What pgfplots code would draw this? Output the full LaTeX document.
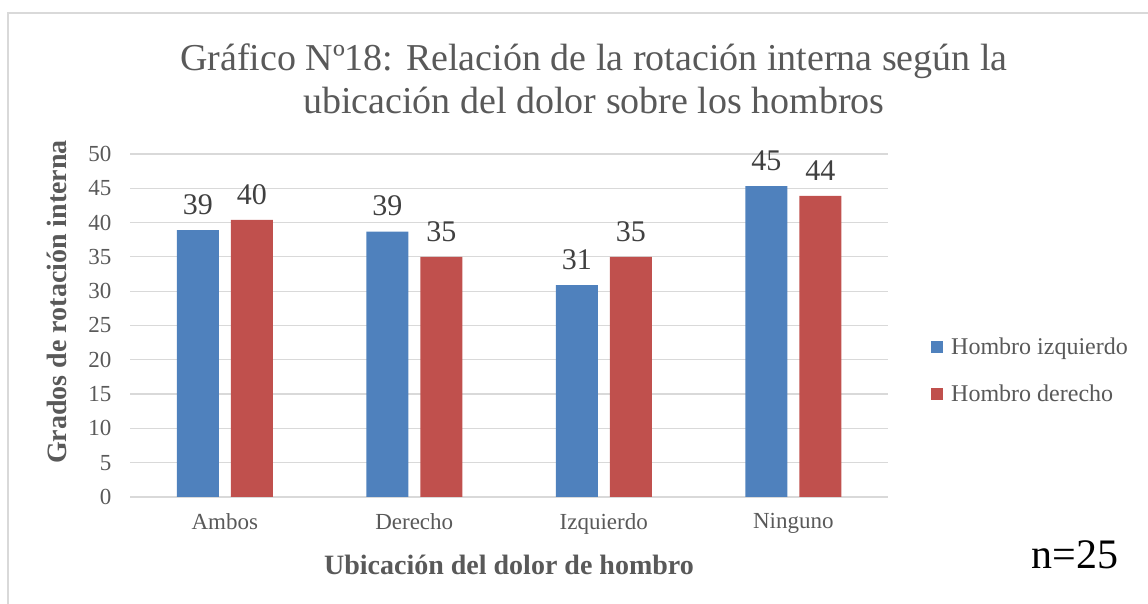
\documentclass[border=0pt]{standalone}
\usepackage{fontspec}
\setmainfont{Liberation Serif}
\usepackage{pgfplots}
\pgfplotsset{compat=1.18}
\definecolor{barblue}{HTML}{4F81BD}
\definecolor{barred}{HTML}{C0504D}
\definecolor{txtgray}{HTML}{595959}
\definecolor{lblgray}{HTML}{404040}
\definecolor{gridgray}{HTML}{D9D9D9}

\begin{document}
\begin{tikzpicture}[x=1pt,y=1pt]
\path[use as bounding box] (0,0) rectangle (1148,604);
% chart frame (cut by the image edge)
\draw[gridgray, line width=1.5pt] (8,-10) -- (8,591) -- (1160,591);
\begin{axis}[
  at={(130pt,107pt)}, anchor=south west,
  scale only axis, width=758pt, height=343pt,
  xmin=-0.5, xmax=3.5, ymin=0, ymax=50,
  ybar=12pt, bar width=42pt,
  xtick={0,1,2,3}, xticklabels={Ambos, Derecho, Izquierdo, Ninguno},
  ytick={0,5,...,50},
  ymajorgrids, grid style={gridgray, line width=1.2pt},
  axis line style={draw=none},
  major tick length=0pt,
  tick label style={font=\fontsize{23}{26}\selectfont, text=txtgray},
  yticklabel style={xshift=-15pt},
  xticklabel style={yshift=-13pt},
  /pgf/number format/assume math mode=true,
  ylabel={Grados de rotación interna},
  ylabel style={font=\bfseries\fontsize{28}{30}\selectfont, text=txtgray,
    at={(axis description cs:-0.0963,0.5685)}, anchor=center},
  xlabel={Ubicación del dolor de hombro},
  xlabel style={font=\bfseries\fontsize{28}{30}\selectfont, text=txtgray,
    at={(axis description cs:0.5,-0.198)}, anchor=center},
  title={Gráfico Nº18: Relación de la rotación interna según la\\ubicación del dolor sobre los hombros},
  title style={font=\fontsize{38}{43}\selectfont, text=txtgray, align=center,
    at={(axis description cs:0.612,1.203)}, anchor=center},
  nodes near coords,
  nodes near coords style={font=\fontsize{30}{32}\selectfont, text=lblgray,
    /pgf/number format/fixed, /pgf/number format/precision=0, yshift=12pt},
  legend style={draw=none, at={(1.0528,0.37)}, anchor=west,
    font=\fontsize{24}{28}\selectfont, text=txtgray, row sep=25pt,
    cells={anchor=west},
    /tikz/every odd column/.append style={column sep=6pt}},
  legend image code/.code={\fill[#1] (0pt,-6pt) rectangle (12pt,6pt);},
  clip=false,
]
\addplot[fill=barblue, draw=none] coordinates {(0,38.9) (1,38.7) (2,30.9) (3,45.3)};
\addplot[fill=barred, draw=none] coordinates {(0,40.4) (1,35.0) (2,35.0) (3,43.9)};
\legend{Hombro izquierdo, Hombro derecho}
\node[font=\fontsize{42}{46}\selectfont, text=black, anchor=center]
  at (axis description cs:1.2467,-0.169) {n=25};
\end{axis}
\end{tikzpicture}
\end{document}
